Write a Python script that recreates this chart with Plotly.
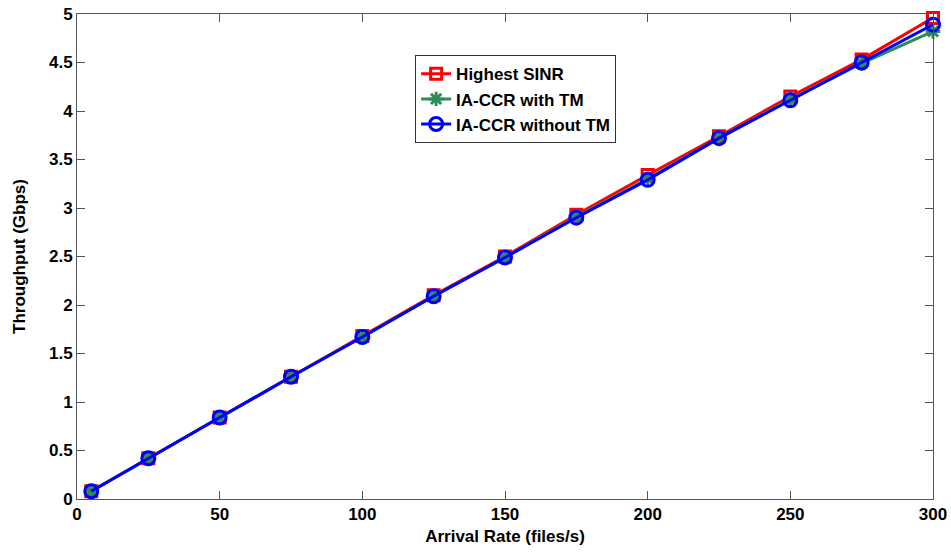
import plotly.graph_objects as go

x = [5, 25, 50, 75, 100, 125, 150, 175, 200, 225, 250, 275, 300]
highest_sinr = [0.08, 0.42, 0.84, 1.26, 1.68, 2.10, 2.50, 2.93, 3.34, 3.74, 4.15, 4.53, 4.96]
ia_ccr_tm = [0.08, 0.42, 0.84, 1.26, 1.67, 2.09, 2.49, 2.91, 3.30, 3.72, 4.12, 4.49, 4.82]
ia_ccr_no_tm = [0.08, 0.42, 0.84, 1.26, 1.67, 2.09, 2.49, 2.90, 3.29, 3.72, 4.11, 4.50, 4.89]

series = [
    ("Highest SINR", highest_sinr, "#FF0000", "square-open", 11),
    ("IA-CCR with TM", ia_ccr_tm, "#2E8B57", "asterisk-open", 12),
    ("IA-CCR without TM", ia_ccr_no_tm, "#0000FF", "circle-open", 13),
]

fig = go.Figure()
for name, y, col, sym, sz in series:
    fig.add_trace(go.Scatter(
        x=x, y=y, name=name, mode="lines+markers", cliponaxis=False,
        line=dict(color=col, width=3),
        marker=dict(symbol=sym, size=sz, color=col, line=dict(color=col, width=3)),
    ))

FAM = "Liberation Sans, Arial, sans-serif"
font = dict(family=FAM, size=17, color="black", weight="bold")
axis_common = dict(
    showgrid=False, zeroline=False, showline=True, linecolor="#555555", linewidth=1,
    mirror="ticks", ticks="inside", ticklen=8, tickcolor="#555555",
    tickfont=font, automargin=False,
)
fig.update_layout(
    width=951, height=555,
    margin=dict(l=77, r=18, t=14, b=56),
    paper_bgcolor="white", plot_bgcolor="white",
    showlegend=True,
    legend=dict(
        x=0.395, y=0.915, xanchor="left", yanchor="top",
        bgcolor="white", bordercolor="#333333", borderwidth=1,
        font=dict(family=FAM, size=17, color="black", weight="bold"),
        itemwidth=30, tracegroupgap=0,
    ),
    xaxis=dict(range=[0, 300], tickvals=[0, 50, 100, 150, 200, 250, 300],
               title=dict(text="Arrival Rate (files/s)", font=font, standoff=6),
               **axis_common),
    yaxis=dict(range=[0, 5], tickvals=[0, 0.5, 1, 1.5, 2, 2.5, 3, 3.5, 4, 4.5, 5],
               ticktext=["0", "0.5", "1", "1.5", "2", "2.5", "3", "3.5", "4", "4.5", "5"],
               title=dict(text="Throughput (Gbps)", font=font, standoff=19),
               **axis_common),
)
fig.write_html("out.html")
